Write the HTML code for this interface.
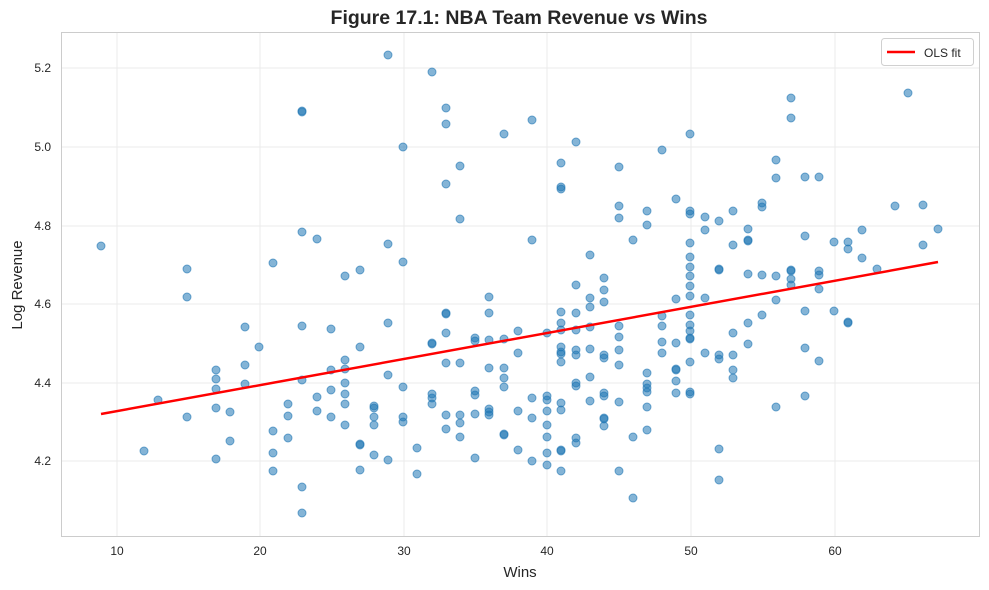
<!DOCTYPE html>
<html><head><meta charset="utf-8"><style>
html,body{margin:0;padding:0;background:#fff;}
svg{display:block;font-family:"Liberation Sans","DejaVu Sans",sans-serif;}
</style></head><body>
<svg id="s" width="989" height="590" viewBox="0 0 989 590" xmlns="http://www.w3.org/2000/svg">
<rect width="989" height="590" fill="#fff"/>
<g stroke="#ebebeb" stroke-width="1">
<line x1="117" y1="32" x2="117" y2="537"/><line x1="260" y1="32" x2="260" y2="537"/><line x1="404" y1="32" x2="404" y2="537"/><line x1="547" y1="32" x2="547" y2="537"/><line x1="691" y1="32" x2="691" y2="537"/><line x1="835" y1="32" x2="835" y2="537"/>
<line x1="61" y1="68" x2="980" y2="68"/><line x1="61" y1="147" x2="980" y2="147"/><line x1="61" y1="226" x2="980" y2="226"/><line x1="61" y1="304" x2="980" y2="304"/><line x1="61" y1="383" x2="980" y2="383"/><line x1="61" y1="461" x2="980" y2="461"/>
</g>
<g id="pts" fill="rgba(31,119,180,0.55)" stroke="rgba(31,119,180,0.6)" stroke-width="1"></g>
<line x1="101" y1="414" x2="938" y2="262" stroke="#ff0000" stroke-width="2.5"/>
<rect x="61.5" y="32.5" width="918" height="504" fill="none" stroke="#cccccc" stroke-width="1"/>
<g font-size="12" fill="#262626" text-anchor="middle">
<text x="117" y="555">10</text><text x="260" y="555">20</text><text x="404" y="555">30</text><text x="547" y="555">40</text><text x="691" y="555">50</text><text x="835" y="555">60</text>
</g>
<g font-size="12" fill="#262626" text-anchor="end">
<text x="51" y="72">5.2</text><text x="51" y="151">5.0</text><text x="51" y="230">4.8</text><text x="51" y="308">4.6</text><text x="51" y="387">4.4</text><text x="51" y="465">4.2</text>
</g>
<text x="520" y="577" font-size="15" fill="#262626" text-anchor="middle">Wins</text>
<text transform="translate(22,285) rotate(-90)" font-size="15" fill="#262626" text-anchor="middle">Log Revenue</text>
<text x="519" y="24" font-size="19.5" font-weight="bold" fill="#262626" text-anchor="middle">Figure 17.1: NBA Team Revenue vs Wins</text>
<rect x="881.5" y="38.5" width="92" height="27" rx="3" fill="#fff" stroke="#d0d0d0"/>
<line x1="887" y1="52" x2="915" y2="52" stroke="#ff0000" stroke-width="2.5"/>
<text x="924" y="57" font-size="12" fill="#262626">OLS fit</text>
</svg>
<script>
var d={101:[246],144:[451],158:[400],187:[269,297,417],216:[370,379,389,408,459],230:[412,441],245:[327,365,384],259:[347],273:[263,431,453,471],288:[404,416,438],302:[111,112,232,326,380,487,513],317:[239,397,411],331:[329,370,390,417],345:[276,360,369,383,394,404,425],360:[270,347,444,445,470],374:[406,408,417,425,455],388:[55,244,323,375,460],403:[147,262,387,417,422],417:[448,474],432:[72,343,344,394,398,404],446:[108,124,184,313,314,333,363,415,429],460:[166,219,363,415,423,437],475:[338,341,391,395,414,458],489:[297,313,340,368,409,412,415],504:[134,339,368,378,387,434,435],518:[331,353,411,450],532:[120,240,398,418,461],547:[333,396,400,411,425,437,453,465],561:[163,187,189,312,323,330,347,352,354,362,403,410,450,451,471],576:[142,285,313,330,350,355,383,386,438,443],590:[255,298,307,327,349,377,401],604:[278,290,302,355,358,393,396,418,419,426],619:[167,206,218,326,337,350,365,402,471],633:[240,437,498],647:[211,225,373,384,388,392,407,430],662:[150,316,326,342,353],676:[199,299,343,369,370,381,393],690:[134,211,214,243,257,267,276,286,296,315,325,331,338,339,362,392,394],705:[217,230,298,353],719:[221,269,270,355,359,449,480],733:[211,245,333,355,370,378],748:[229,240,241,274,323,344],762:[203,207,275,315],776:[160,178,276,300,407],791:[98,118,270,271,279,285],805:[177,236,311,348,396],819:[177,271,275,289,361],834:[242,311],848:[242,249,322,323],862:[230,258],877:[269],895:[206],908:[93],923:[205,245],938:[229]};
var g=document.getElementById('pts'),h='';
for(var x in d){d[x].forEach(function(y){h+='<circle cx="'+x+'" cy="'+y+'" r="4"/>';});}
g.innerHTML=h;
</script>
</body></html>
